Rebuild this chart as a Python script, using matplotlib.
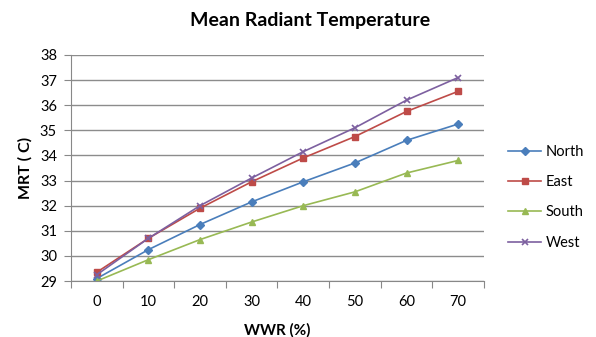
import matplotlib.pyplot as plt
import numpy as np

plt.rcParams["font.family"] = ["Lato", "DejaVu Sans"]

# Data
wwr = [0, 10, 20, 30, 40, 50, 60, 70]
north = [29.1, 30.25, 31.25, 32.15, 32.95, 33.7, 34.6, 35.25]
east = [29.35, 30.7, 31.9, 32.95, 33.9, 34.75, 35.75, 36.55]
south = [29.0, 29.85, 30.65, 31.35, 32.0, 32.55, 33.3, 33.8]
west = [29.25, 30.7, 32.0, 33.1, 34.15, 35.1, 36.2, 37.1]

fig = plt.figure(figsize=(5.96, 3.37), dpi=100)
ax = fig.add_axes([0.119, 0.166, 0.693, 0.671])

x = np.arange(len(wwr))
ax.plot(x, north, color="#4a7ebb", marker="D", markersize=4, linewidth=1.2, label="North")
ax.plot(x, east, color="#be4b48", marker="s", markersize=5, linewidth=1.2, label="East")
ax.plot(x, south, color="#98b954", marker="^", markersize=5, linewidth=1.2, label="South")
ax.plot(x, west, color="#7d60a0", marker="x", markersize=5, markeredgewidth=1.2, linewidth=1.2, label="West")

ax.set_xlim(-0.5, len(wwr) - 0.5)
ax.set_ylim(29, 38)
ax.set_yticks(range(29, 39))
ax.set_xticks(np.arange(-0.5, len(wwr)), labels=[])
ax.set_xticks(x, labels=[str(v) for v in wwr], minor=True)
ax.tick_params(axis="x", which="major", length=5, color="#888888")
ax.tick_params(axis="x", which="minor", length=0, labelsize=10.5, pad=10)
ax.tick_params(axis="y", length=5, color="#888888", labelsize=10.5, pad=5)
ax.grid(axis="y", color="#8c8c8c", linewidth=1)
ax.set_axisbelow(True)
for s in ["top", "right"]:
    ax.spines[s].set_visible(False)
for s in ["left", "bottom"]:
    ax.spines[s].set_color("#888888")

ax.set_xlabel("WWR (%)", fontweight="bold", fontsize=11, labelpad=10)
ax.set_ylabel("MRT ( C)", fontweight="bold", fontsize=11.5, labelpad=5)
fig.suptitle("Mean Radiant Temperature", fontweight="bold", fontsize=14, x=0.52, y=0.965)

fig.legend(loc="center left", bbox_to_anchor=(0.852, 0.415), frameon=False,
           fontsize=10.5, handlelength=2.3, labelspacing=1.12, handletextpad=0.3,
           borderpad=0, borderaxespad=0)

fig.savefig("out.png", dpi=100)
